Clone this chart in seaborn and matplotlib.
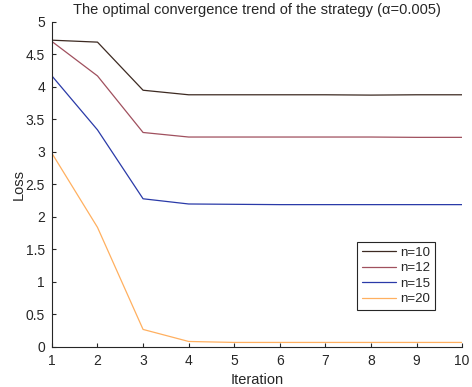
import matplotlib
matplotlib.use("Agg")
import matplotlib.pyplot as plt
import seaborn as sns
import pandas as pd

iterations = [1, 2, 3, 4, 5, 6, 7, 8, 9, 10]
loss_n10 = [4.72, 4.69, 3.95, 3.88, 3.88, 3.88, 3.88, 3.875, 3.88, 3.88]
loss_n12 = [4.70, 4.17, 3.30, 3.23, 3.23, 3.23, 3.23, 3.23, 3.225, 3.225]
loss_n15 = [4.17, 3.34, 2.28, 2.20, 2.195, 2.19, 2.19, 2.19, 2.19, 2.19]
loss_n20 = [2.98, 1.84, 0.27, 0.085, 0.07, 0.07, 0.07, 0.07, 0.07, 0.07]
series_names = ["n=10", "n=12", "n=15", "n=20"]
colors = ["#3d2a22", "#a0505e", "#2a3aa8", "#ffb060"]

rows = []
for name, vals in zip(series_names, [loss_n10, loss_n12, loss_n15, loss_n20]):
    for x, v in zip(iterations, vals):
        rows.append({"Iteration": x, "Loss": v, "series": name})
df = pd.DataFrame(rows)

sns.set_theme(style="white")
plt.rcParams["font.family"] = ["Liberation Sans", "DejaVu Sans"]
plt.rcParams["xtick.direction"] = "in"
plt.rcParams["ytick.direction"] = "in"

fig = plt.figure(figsize=(4.72, 3.87), dpi=100)
ax = fig.add_axes([0.110, 0.1034, 0.869, 0.8398])
sns.lineplot(data=df, x="Iteration", y="Loss", hue="series",
             palette=dict(zip(series_names, colors)), linewidth=0.9, ax=ax)

ax.set_xlim(1, 10)
ax.set_ylim(0, 5)
ax.set_xticks(iterations)
ax.set_yticks([0, 0.5, 1, 1.5, 2, 2.5, 3, 3.5, 4, 4.5, 5])
ax.set_yticklabels(["0", "0.5", "1", "1.5", "2", "2.5", "3", "3.5", "4", "4.5", "5"])
ax.tick_params(axis="x", pad=5)
ax.tick_params(axis="y", pad=5)
ax.tick_params(axis="both", labelsize=10, length=3, width=0.8, color="#262626",
               labelcolor="#262626", bottom=True, left=True)
for s in ["top", "right"]:
    ax.spines[s].set_visible(False)
for s in ["left", "bottom"]:
    ax.spines[s].set_color("#262626")
    ax.spines[s].set_linewidth(0.8)

ax.set_xlabel("Iteration", fontsize=10.5, color="#262626", labelpad=4)
ax.set_ylabel("Loss", fontsize=10.5, color="#262626", labelpad=0)
ax.set_title("The optimal convergence trend of the strategy (\u03b1=0.005)",
             fontsize=10.5, color="#262626", pad=6)

leg = ax.legend(loc="upper left", bbox_to_anchor=(0.744, 0.323), fontsize=9.5,
                frameon=True, fancybox=False, edgecolor="#262626",
                handlelength=2.6, handletextpad=0.3, borderpad=0.35,
                labelspacing=0.25, borderaxespad=0)
leg.get_frame().set_linewidth(0.8)
leg.get_frame().set_alpha(1)

fig.savefig("out.png", dpi=100)
